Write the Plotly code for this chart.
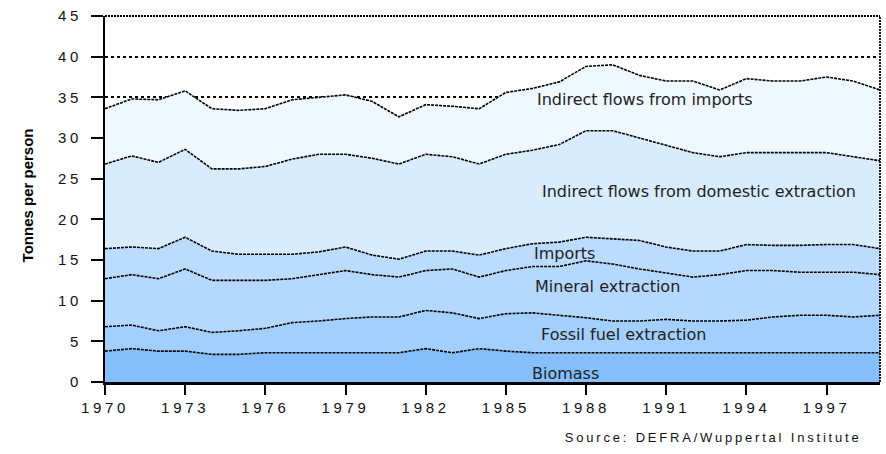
import plotly.graph_objects as go

years = list(range(1970, 2000))

# tonnes per person, per category (stacked from the bottom)
biomass = [3.8, 4.1, 3.8, 3.8, 3.4, 3.4, 3.6, 3.6, 3.6, 3.6, 3.6, 3.6, 4.1, 3.6, 4.1,
           3.8, 3.6, 3.6, 3.6, 3.6, 3.6, 3.6, 3.6, 3.6, 3.6, 3.6, 3.6, 3.6, 3.6, 3.6]
fossil = [3.0, 2.9, 2.5, 3.0, 2.7, 2.9, 3.0, 3.7, 3.9, 4.2, 4.4, 4.4, 4.7, 4.9, 3.7,
          4.6, 4.9, 4.6, 4.3, 3.9, 3.9, 4.1, 3.9, 3.9, 4.0, 4.4, 4.6, 4.6, 4.4, 4.6]
mineral = [5.9, 6.2, 6.4, 7.1, 6.4, 6.2, 5.9, 5.4, 5.7, 5.9, 5.2, 4.9, 4.9, 5.4, 5.1,
           5.3, 5.7, 6.0, 7.0, 7.0, 6.4, 5.7, 5.4, 5.7, 6.1, 5.7, 5.3, 5.3, 5.5, 5.0]
imports = [3.7, 3.4, 3.7, 3.9, 3.6, 3.2, 3.2, 3.0, 2.8, 2.9, 2.4, 2.2, 2.4, 2.2, 2.7,
           2.7, 2.8, 3.0, 2.9, 3.1, 3.5, 3.2, 3.2, 2.9, 3.2, 3.1, 3.3, 3.4, 3.4, 3.2]
indirect_domestic = [10.4, 11.2, 10.6, 10.8, 10.1, 10.5, 10.8, 11.7, 12.0, 11.4, 11.9, 11.7, 11.9, 11.6, 11.2,
                     11.6, 11.5, 12.0, 13.1, 13.3, 12.6, 12.5, 12.1, 11.6, 11.3, 11.4, 11.4, 11.3, 10.8, 10.8]
indirect_imports = [6.8, 7.0, 7.7, 7.2, 7.4, 7.2, 7.1, 7.3, 7.0, 7.3, 7.0, 5.8, 6.1, 6.2, 6.8,
                    7.6, 7.6, 7.7, 7.9, 8.1, 7.7, 7.9, 8.8, 8.2, 9.1, 8.8, 8.8, 9.3, 9.3, 8.7]

series = [
    ('Biomass', biomass, '#84bffc'),
    ('Fossil fuel extraction', fossil, '#a2cffd'),
    ('Mineral extraction', mineral, '#b5d9fe'),
    ('Imports', imports, '#bcdcfe'),
    ('Indirect flows from domestic extraction', indirect_domestic, '#d8ecfe'),
    ('Indirect flows from imports', indirect_imports, '#eff7ff'),
]

# label anchor (left edge year, value) for each band
label_pos = {
    'Biomass': (1985.9, 1.05),
    'Fossil fuel extraction': (1986.24, 5.8),
    'Mineral extraction': (1986.02, 11.7),
    'Imports': (1985.98, 15.8),
    'Indirect flows from domestic extraction': (1986.28, 23.4),
    'Indirect flows from imports': (1986.09, 34.7),
}

fig = go.Figure()
for name, vals, color in series:
    fig.add_trace(go.Scatter(x=years, y=vals, name=name,
                             mode='lines', stackgroup='one',
                             fillcolor=color,
                             line=dict(color='black', width=1.6, dash='3px,1px'),
                             hoverinfo='x+y+name'))

annotations = []
for name, (lx, ly) in label_pos.items():
    annotations.append(dict(x=lx, y=ly, text=name, showarrow=False,
                            xanchor='left', yanchor='middle',
                            font=dict(family='DejaVu Sans', size=16, color='#222')))

annotations.append(dict(xref='paper', yref='paper', x=-0.1006, y=0.51,
                        text='<b>Tonnes per person</b>', textangle=-90, showarrow=False,
                        xanchor='center', yanchor='middle',
                        font=dict(family='Liberation Sans', size=15, color='black')))
annotations.append(dict(xref='paper', yref='paper', x=0.7845, y=-0.153,
                        text='Source: DEFRA/Wuppertal Institute', showarrow=False,
                        xanchor='center', yanchor='middle',
                        font=dict(family='Liberation Sans', size=13, color='#111')))

# dotted frame on the top and right of the plot area
border = dict(color='black', width=1.8, dash='2px,1px')
fig.update_layout(
    width=886, height=454,
    margin=dict(l=105, r=6, t=16, b=72),
    paper_bgcolor='white', plot_bgcolor='white',
    showlegend=False,
    annotations=annotations,
    shapes=[
        dict(type='line', xref='paper', yref='paper', x0=1, x1=1, y0=0, y1=1, line=border),
        dict(type='line', xref='paper', yref='paper', x0=0, x1=1, y0=1, y1=1, line=border),
    ],
)

fig.update_xaxes(range=[1970, 1999], tick0=1970, dtick=3,
                 showgrid=False, zeroline=False,
                 showline=True, linecolor='black', linewidth=3,
                 ticks='outside', ticklen=10, tickwidth=1.5, tickcolor='black',
                 tickfont=dict(family='Liberation Sans', size=15, color='#111'))
fig.update_yaxes(range=[0, 45], tick0=0, dtick=5,
                 showgrid=True, gridcolor='black', gridwidth=1.5, griddash='dot',
                 zeroline=False,
                 showline=True, linecolor='black', linewidth=2,
                 ticks='outside', ticklen=12, tickwidth=2, tickcolor='black',
                 ticklabelstandoff=6,
                 tickfont=dict(family='Liberation Sans', size=15, color='#111'))

# drop the page margin and widen the letter spacing of tick labels and the source note
spacing_js = """
document.body.style.margin = '0';
var gd = document.getElementById('{plot_id}');
gd.querySelectorAll('.xtick text, .ytick text').forEach(function(t){ t.style.letterSpacing = '3.7px'; });
var src = gd.querySelector('.annotation[data-index="7"] text');
if (src) { src.style.letterSpacing = '2.8px'; }
"""

fig.write_html("out.html", post_script=spacing_js, config={'displayModeBar': False})
